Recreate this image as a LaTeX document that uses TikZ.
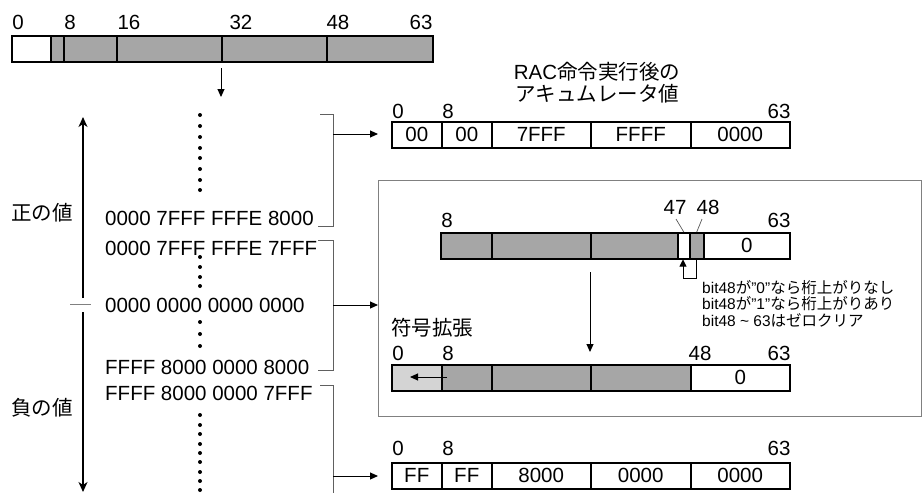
\documentclass[tikz,border=0pt]{standalone}
\usepackage{fontspec}
\setmainfont{Liberation Sans}
\newfontfamily\jp{Noto Sans CJK JP}
\usetikzlibrary{arrows.meta}
\definecolor{barg}{HTML}{A6A6A6}
\definecolor{lightg}{HTML}{D4D4D4}
\definecolor{frameg}{HTML}{808080}
\definecolor{brkg}{HTML}{606060}
\newcommand\cellbox[6]{\node[cell, fill=#5, minimum width=#4pt] (#1) at (#2,#3) {#6};}
\begin{document}
\begin{tikzpicture}[x=1pt,y=-1pt,
  every node/.style={font=\fontsize{20.5}{24}\selectfont, inner sep=0pt},
  cell/.style={draw, line width=1.5pt, inner sep=0pt, anchor=north west, minimum height=26pt},
  lab/.style={anchor=center},
  arr/.style={line width=1pt, -{Triangle[length=8pt,width=7pt]}},
  varr/.style={line width=1.1pt, -{Stealth[length=10pt,width=9pt,inset=3pt]}},
  brk/.style={draw=brkg, line width=1pt},
  note/.style={anchor=west, font=\fontsize{15.5}{16}\selectfont},
  dot/.style={fill=black}]
\useasboundingbox (0,0) rectangle (922,493);

% ---------- top 64-bit register ----------
\cellbox{t0}{11}{35}{39}{white}{}
\cellbox{t1}{50}{35}{13}{barg}{}
\cellbox{t2}{63}{35}{53}{barg}{}
\cellbox{t3}{116}{35}{105}{barg}{}
\cellbox{t4}{221}{35}{105}{barg}{}
\cellbox{t5}{326}{35}{106}{barg}{}
\node[lab] (tl0) at (18,22) {0};
\node[lab] (tl8) at (70,22) {8};
\node[lab] (tl16) at (129,22) {16};
\node[lab] (tl32) at (241,22) {32};
\node[lab] (tl48) at (338,22) {48};
\node[lab] (tl63) at (421,22) {63};
\coordinate (ta1) at (221,68);
\coordinate (ta2) at (221,97);
\draw[arr] (ta1) -- (ta2);

% ---------- left side value scale ----------
\coordinate (up0) at (83,298);
\coordinate (up1) at (83,117);
\coordinate (dn0) at (83,312);
\coordinate (dn1) at (83,492);
\draw[varr] (up0) -- (up1);
\draw[varr] (dn0) -- (dn1);
\coordinate (tk0) at (70,304);
\coordinate (tk1) at (91,304);
\draw[draw=gray, line width=0.9pt] (tk0) -- (tk1);
\node[lab] (pos) at (42,213) {\jp 正の値};
\node[lab] (neg) at (42,408) {\jp 負の値};

\node[anchor=west] (v1) at (105,218) {0000 7FFF FFFE 8000};
\node[anchor=west] (v2) at (105,248) {0000 7FFF FFFE 7FFF};
\node[anchor=west] (v3) at (105,305) {0000 0000 0000 0000};
\node[anchor=west] (v4) at (105,367) {FFFF 8000 0000 8000};
\node[anchor=west] (v5) at (105,393) {FFFF 8000 0000 7FFF};

\foreach \yy in {115,126,137,148,158,169,180,190,257,267,277,286,322,334,346,415,425,434,444,453,462,472,481,490}
  \fill[dot] (200,\yy) circle (2pt);

% ---------- brackets ----------
\draw[brk] (320,114) -- (333,114) -- (333,226) -- (318,226);
\draw[brk] (318,240) -- (333,240) -- (333,370) -- (318,370);
\draw[brk] (320,385) -- (333,385) -- (333,495);

% ---------- result box for positive overflow ----------
\node[anchor=center] (ttl1) at (597,72) {RAC{\jp 命令実行後の}};
\node[anchor=center] (ttl2) at (597,94) {\jp アキュムレータ値};
\cellbox{a0}{391}{121}{50}{white}{00}
\cellbox{a1}{441}{121}{50}{white}{00}
\cellbox{a2}{491}{121}{99}{white}{7FFF}
\cellbox{a3}{590}{121}{100}{white}{FFFF}
\cellbox{a4}{690}{121}{99}{white}{0000}
\node[lab] (al0) at (398,111) {0};
\node[lab] (al8) at (448,111) {8};
\node[lab] (al63) at (779,111) {63};

% ---------- panel for in-range values ----------
\node[draw=frameg, line width=1.3pt, anchor=north west, minimum width=543pt, minimum height=236pt] (panel) at (378,180) {};

\cellbox{b0}{440}{232}{51}{barg}{}
\cellbox{b1}{491}{232}{99}{barg}{}
\cellbox{b2}{590}{232}{87}{barg}{}
\cellbox{b3}{677}{232}{12}{white}{}
\cellbox{b4}{689}{232}{14}{barg}{}
\cellbox{b5}{703}{232}{86}{white}{0}
\node[lab] (bl8) at (447,220) {8};
\node[lab] (bl47) at (675,207) {47};
\node[lab] (bl48) at (708,207) {48};
\node[lab] (bl63) at (779,220) {63};
\draw[gray!70!black, line width=0.7pt] (676,219) -- (b3.north);
\draw[gray!70!black, line width=0.7pt] (702,219) -- (b4.north);
\coordinate (cy1) at (695,278);
\coordinate (cy2) at (683,278);
\draw[line width=0.9pt, -{Triangle[length=7pt,width=7pt]}] (b4.south) -- (b4.south |- cy1) -- (cy2) -- (cy2 |- b3.south);
\node[note] (n1) at (702,288) {bit48{\jp が}"0"{\jp なら桁上がりなし}};
\node[note] (n2) at (702,304) {bit48{\jp が}"1"{\jp なら桁上がりあり}};
\node[note] (n3) at (702,320) {bit48 \textasciitilde\ 63{\jp はゼロクリア}};

\coordinate (ma1) at (590,272);
\coordinate (ma2) at (590,352);
\draw[arr] (ma1) -- (ma2);

\node[anchor=west] (sx) at (391,328) {\jp 符号拡張};
\cellbox{c0}{391}{364}{50}{lightg}{}
\cellbox{c1}{441}{364}{50}{barg}{}
\cellbox{c2}{491}{364}{99}{barg}{}
\cellbox{c3}{590}{364}{100}{barg}{}
\cellbox{c4}{690}{364}{99}{white}{0}
\node[lab] (cl0) at (398,353) {0};
\node[lab] (cl8) at (448,353) {8};
\node[lab] (cl48) at (700,353) {48};
\node[lab] (cl63) at (779,353) {63};
\coordinate (se1) at (447,377);
\coordinate (se2) at (410,377);
\draw[arr] (se1) -- (se2);

% ---------- result box for negative overflow ----------
\cellbox{d0}{391}{462}{50}{white}{FF}
\cellbox{d1}{441}{462}{50}{white}{FF}
\cellbox{d2}{491}{462}{99}{white}{8000}
\cellbox{d3}{590}{462}{100}{white}{0000}
\cellbox{d4}{690}{462}{99}{white}{0000}
\node[lab] (dl0) at (398,448) {0};
\node[lab] (dl8) at (448,448) {8};
\node[lab] (dl63) at (779,448) {63};

% ---------- bracket arrows ----------
\coordinate (br1) at (333,134);
\coordinate (br2) at (333,305);
\coordinate (br3) at (333,476);
\draw[arr] (br1) -- (br1 -| panel.west);
\draw[arr] (br2) -- (br2 -| panel.west);
\draw[arr] (br3) -- (br3 -| panel.west);
\end{tikzpicture}
\end{document}
